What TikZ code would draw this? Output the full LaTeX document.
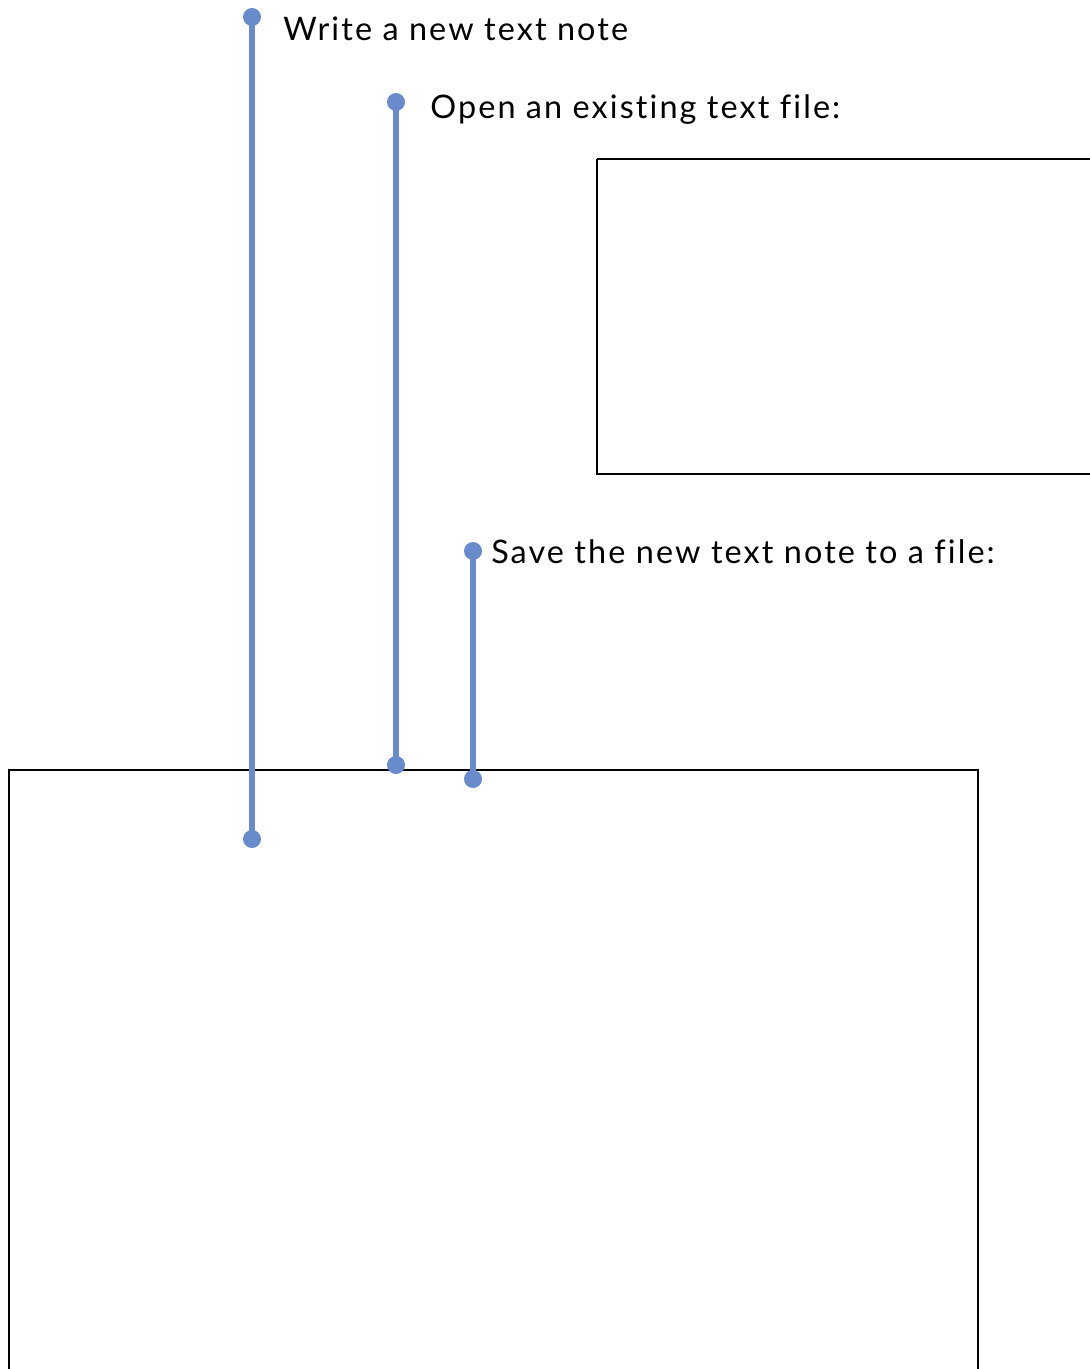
\documentclass[tikz,border=0pt]{standalone}
\usepackage{fontspec}
\setmainfont[Ligatures={NoCommon},LetterSpace=6.5]{Lato}
\definecolor{lineblue}{HTML}{6A8BCB}
\begin{document}
\begin{tikzpicture}[x=0.75pt,y=-0.75pt,
  dot/.style={circle,fill=lineblue,inner sep=0pt,minimum size=13.5pt},
  conn/.style={lineblue,line width=3.8pt},
  box/.style={draw=black,line width=1.5pt},
  lbl/.style={anchor=base west,inner sep=0pt,font=\fontsize{24.3}{28}\selectfont}]
\useasboundingbox (0,0) rectangle (1089,1369);
\draw[box] (597,159) -- (1095,159) (597,159) -- (597,474) -- (1095,474);
\draw[box] (9,1375) -- (9,770) -- (978,770) -- (978,1375);
\coordinate (a1) at (252,17);
\coordinate (a2) at (252,839);
\coordinate (b1) at (396,102);
\coordinate (b2) at (396,765);
\coordinate (c1) at (473,551);
\coordinate (c2) at (473,779);
\draw[conn] (a1) -- (a2);
\draw[conn] (b1) -- (b2);
\draw[conn] (c1) -- (c2);
\foreach \p in {a1,a2,b1,b2,c1,c2} \node[dot] at (\p) {};
\node[lbl] (t1) at (283,41) {Write a new text note};
\node[lbl] (t2) at (430,119) {Open an existing text file:};
\node[lbl] (t3) at (491,563) {Save the new text note to a file:};
\end{tikzpicture}
\end{document}
